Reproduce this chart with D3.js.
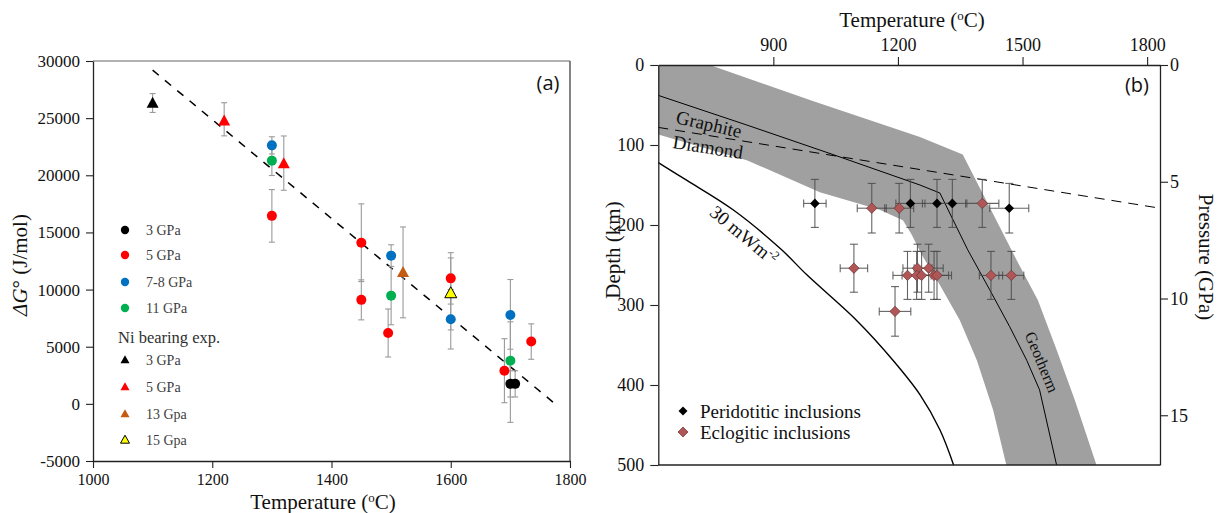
<!DOCTYPE html>
<html><head><meta charset="utf-8">
<script src="https://cdn.jsdelivr.net/npm/d3@7"></script>
<style>body{margin:0;background:#fff}svg{display:block}</style>
</head><body>
<svg id="c" width="1217" height="513"></svg>
<script>
// ---------------- Panel (a) data ----------------
const xTicksA = [1000, 1200, 1400, 1600, 1800];
const yTicksA = [-5000, 0, 5000, 10000, 15000, 20000, 25000, 30000];

// circles (Ni-free experiments)
const p3T = [1700, 1708];
const p3G = [1750, 1750];
const p3Lo = [1150, 1150];
const p3Hi = [1150, 1150];

const p5T = [1300, 1450, 1450, 1495, 1600, 1690, 1735];
const p5G = [16450, 14100, 9100, 6200, 10980, 2900, 5450];
const p5Lo = [2300, 3400, 1750, 2100, 2250, 2800, 1550];
const p5Hi = [2300, 3400, 1750, 2100, 2250, 2800, 1550];

const p78T = [1300, 1500, 1600, 1700];
const p78G = [22620, 12970, 7400, 7780];
const p78Lo = [750, 950, 2600, 3000];
const p78Hi = [750, 950, 2600, 3100];

const p11T = [1300, 1500, 1700];
const p11G = [21280, 9470, 3780];
const p11Lo = [1300, 2550, 5400];
const p11Hi = [1300, 2550, 3400];

// triangles (Ni bearing experiments)
const ni3T = [1100], ni3G = [26300], ni3Lo = [800], ni3Hi = [850];
const ni5T = [1220, 1320], ni5G = [24750, 20990], ni5Lo = [1300, 2300], ni5Hi = [1600, 2450];
const ni13T = [1520], ni13G = [11480], ni13Lo = [3950], ni13Hi = [4000];
const ni15T = [1600], ni15G = [9670], ni15Lo = [3200], ni15Hi = [3100];

// dashed regression line
const fitT = [1100, 1775];
const fitG = [29200, 0];

const legendA = ["3 GPa", "5 GPa", "7-8 GPa", "11 GPa"];
const legendNiTitle = "Ni bearing exp.";
const legendNi = ["3 GPa", "5 GPa", "13 Gpa", "15 Gpa"];

// ---------------- Panel (b) data ----------------
const tTicksB = [900, 1200, 1500, 1800];
const dTicksB = [0, 100, 200, 300, 400, 500];
const pTicksB = [0, 5, 10, 15];

const bandUpperT = [623, 747, 995, 1253, 1356, 1486, 1537, 1582, 1626, 1678];
const bandUpperD = [0, 0, 45, 90, 112, 244, 294, 356, 419, 500];
const bandLowerT = [623, 836, 1012, 1156, 1212, 1233, 1257, 1301, 1349, 1390, 1429, 1461];
const bandLowerD = [87, 119, 159, 181, 194, 212, 237, 275, 319, 369, 431, 500];

const geoT = [623, 836, 1044, 1253, 1301, 1368, 1421, 1469, 1510, 1541, 1582];
const geoD = [38, 75, 112, 150, 160, 231, 281, 327, 369, 406, 500];

const gdT = [623, 1831];
const gdD = [78, 179];

const hf30T = [623, 691, 803, 920, 980, 1100, 1188, 1253, 1301, 1334];
const hf30D = [122, 144, 181, 231, 262, 319, 369, 412, 456, 500];

const periT = [1000, 1230, 1294, 1331, 1468];
const periD = [173, 173, 173, 173, 179];
const periTE = [27, 35, 35, 35, 47];
const periDE = [30, 30, 30, 30, 31];

const eclT = [1137, 1203, 1094, 1193, 1247, 1274, 1223, 1245, 1257, 1287, 1294, 1403, 1424, 1473];
const eclD = [179, 179, 254, 308, 254, 254, 263, 263, 263, 263, 263, 173, 263, 263];
const eclTE = [35, 35, 33, 38, 35, 35, 35, 35, 35, 35, 35, 40, 28, 30];
const eclDE = [31, 31, 30, 31, 30, 30, 30, 30, 30, 30, 30, 30, 30, 30];

const legendB = ["Peridotitic inclusions", "Eclogitic inclusions"];

// ---------------- drawing ----------------
const svg = d3.select('#c');
const serif = '"Liberation Serif", "Times New Roman", serif';
const sans = '"Open Sans", "Noto Sans", sans-serif';

// ===== Panel (a) =====
const xA = d3.scaleLinear().domain([1000, 1800]).range([93, 570]);
const yA = d3.scaleLinear().domain([-5000, 30000]).range([461, 61]);
const gA = svg.append('g');

gA.append('line').attr('x1', 93).attr('x2', 570).attr('y1', 61).attr('y2', 61).attr('stroke', '#666').attr('stroke-width', 1.2);
gA.append('line').attr('x1', 570).attr('x2', 570).attr('y1', 61).attr('y2', 461).attr('stroke', '#333').attr('stroke-width', 1.2);

function styleAxis(g, fs) {
  g.attr('font-family', serif).attr('font-size', fs);
  g.select('.domain').attr('stroke', '#222').attr('stroke-width', 1.3);
  g.selectAll('.tick line').attr('stroke', '#222').attr('stroke-width', 1.1);
  g.selectAll('.tick text').attr('font-family', serif).attr('font-size', fs).attr('fill', '#111');
}

const axAL = gA.append('g').attr('transform', 'translate(93,0)')
  .call(d3.axisLeft(yA).tickValues(yTicksA).tickFormat(d => String(d)).tickSize(7).tickSizeOuter(0).tickPadding(6));
styleAxis(axAL, 17);
const axAB = gA.append('g').attr('transform', 'translate(0,461)')
  .call(d3.axisBottom(xA).tickValues(xTicksA).tickFormat(d => String(d)).tickSize(7).tickSizeOuter(0).tickPadding(6));
styleAxis(axAB, 16);

// axis titles
const tA = gA.append('text').attr('x', 323).attr('y', 509).attr('text-anchor', 'middle')
  .attr('font-family', serif).attr('font-size', 21).attr('fill', '#111');
tA.append('tspan').text('Temperature (');
tA.append('tspan').text('o').attr('font-size', 13).attr('baseline-shift', 'super');
tA.append('tspan').text('C)');

const yTitle = gA.append('text').attr('transform', 'translate(27,265) rotate(-90)').attr('text-anchor', 'middle')
  .attr('font-family', serif).attr('font-size', 21).attr('fill', '#111');
yTitle.append('tspan').text('ΔG').attr('font-style', 'italic');
yTitle.append('tspan').text('°');
yTitle.append('tspan').text(' (J/mol)');

gA.append('text').attr('x', 548).attr('y', 90).attr('text-anchor', 'middle')
  .attr('font-family', sans).attr('font-size', 20).attr('fill', '#111').text('(a)');

// dashed fit
gA.append('path').datum(fitT.map((t, i) => [t, fitG[i]]))
  .attr('d', d3.line().x(d => xA(d[0])).y(d => yA(d[1])))
  .attr('fill', 'none').attr('stroke', '#000').attr('stroke-width', 1.5).attr('stroke-dasharray', '8,8');

const seriesA = [
  {T: p3T, G: p3G, lo: p3Lo, hi: p3Hi, color: '#000000', shape: 'circle'},
  {T: p5T, G: p5G, lo: p5Lo, hi: p5Hi, color: '#FF0000', shape: 'circle'},
  {T: p78T, G: p78G, lo: p78Lo, hi: p78Hi, color: '#0070C0', shape: 'circle'},
  {T: p11T, G: p11G, lo: p11Lo, hi: p11Hi, color: '#00B050', shape: 'circle'},
  {T: ni3T, G: ni3G, lo: ni3Lo, hi: ni3Hi, color: '#000000', shape: 'tri'},
  {T: ni5T, G: ni5G, lo: ni5Lo, hi: ni5Hi, color: '#FF0000', shape: 'tri'},
  {T: ni13T, G: ni13G, lo: ni13Lo, hi: ni13Hi, color: '#C55A11', shape: 'tri'},
  {T: ni15T, G: ni15G, lo: ni15Lo, hi: ni15Hi, color: '#FFFF00', shape: 'tri', stroke: '#000'}
];

// error bars
const ebA = gA.append('g').attr('stroke', '#9a9a9a').attr('stroke-width', 1.1);
seriesA.forEach(s => {
  s.T.forEach((t, i) => {
    const x = xA(t), y1 = yA(s.G[i] + s.hi[i]), y2 = yA(s.G[i] - s.lo[i]);
    ebA.append('line').attr('x1', x).attr('x2', x).attr('y1', y1).attr('y2', y2);
    ebA.append('line').attr('x1', x - 3).attr('x2', x + 3).attr('y1', y1).attr('y2', y1);
    ebA.append('line').attr('x1', x - 3).attr('x2', x + 3).attr('y1', y2).attr('y2', y2);
  });
});

function triPath(cx, cy, w, h) {
  return `M${cx},${cy - h * 0.6}L${cx + w / 2},${cy + h * 0.4}L${cx - w / 2},${cy + h * 0.4}Z`;
}

seriesA.forEach(s => {
  s.T.forEach((t, i) => {
    const x = xA(t), y = yA(s.G[i]);
    if (s.shape === 'circle') {
      gA.append('circle').attr('cx', x).attr('cy', y).attr('r', 5).attr('fill', s.color);
    } else {
      gA.append('path').attr('d', triPath(x, y, 12, 11)).attr('fill', s.color)
        .attr('stroke', s.stroke || 'none').attr('stroke-width', 1);
    }
  });
});

// legend (a)
const legY = [230, 255, 282, 308];
legendA.forEach((lab, i) => {
  gA.append('circle').attr('cx', 125).attr('cy', legY[i]).attr('r', 4.2).attr('fill', seriesA[i].color);
  gA.append('text').attr('x', 146).attr('y', legY[i]).attr('dy', '0.35em').attr('font-family', serif)
    .attr('font-size', 14).attr('fill', '#404040').text(lab);
});
gA.append('text').attr('x', 118).attr('y', 337).attr('dy', '0.35em').attr('font-family', serif)
  .attr('font-size', 16.5).attr('fill', '#303030').text(legendNiTitle);
const legNiY = [360, 387, 414, 440];
legendNi.forEach((lab, i) => {
  const s = seriesA[4 + i];
  gA.append('path').attr('d', triPath(125, legNiY[i], 9, 8)).attr('fill', s.color)
    .attr('stroke', s.stroke || 'none').attr('stroke-width', 1);
  gA.append('text').attr('x', 146).attr('y', legNiY[i]).attr('dy', '0.35em').attr('font-family', serif)
    .attr('font-size', 14).attr('fill', '#404040').text(lab);
});

// ===== Panel (b) =====
const xB = d3.scaleLinear().domain([623, 1831]).range([658.3, 1160]);
const yB = d3.scaleLinear().domain([0, 500]).range([65, 465]);
const pB = d3.scaleLinear().domain([0, 17.13]).range([65, 465]);
const gB = svg.append('g');

// band
const bandPts = bandUpperT.map((t, i) => [t, bandUpperD[i]])
  .concat(bandLowerT.map((t, i) => [t, bandLowerD[i]]).reverse());
gB.append('path').datum(bandPts)
  .attr('d', d3.line().x(d => xB(d[0])).y(d => yB(d[1])).curve(d3.curveLinearClosed))
  .attr('fill', '#a0a0a0').attr('stroke', 'none');

const lineB = d3.line().x(d => xB(d[0])).y(d => yB(d[1]));
gB.append('path').datum(geoT.map((t, i) => [t, geoD[i]])).attr('d', lineB)
  .attr('fill', 'none').attr('stroke', '#000').attr('stroke-width', 1);
gB.append('path').datum(gdT.map((t, i) => [t, gdD[i]])).attr('d', lineB)
  .attr('fill', 'none').attr('stroke', '#000').attr('stroke-width', 1).attr('stroke-dasharray', '10,7');
gB.append('path').datum(hf30T.map((t, i) => [t, hf30D[i]]))
  .attr('d', d3.line().x(d => xB(d[0])).y(d => yB(d[1])).curve(d3.curveCatmullRom))
  .attr('fill', 'none').attr('stroke', '#000').attr('stroke-width', 1.4);

// axes b
const axBT = gB.append('g').attr('transform', 'translate(0,65)')
  .call(d3.axisTop(xB).tickValues(tTicksB).tickFormat(d => String(d)).tickSize(8).tickSizeOuter(0).tickPadding(6));
styleAxis(axBT, 18);
const axBL = gB.append('g').attr('transform', 'translate(658.3,0)')
  .call(d3.axisLeft(yB).tickValues(dTicksB).tickFormat(d => String(d)).tickSize(8).tickSizeOuter(0).tickPadding(6));
styleAxis(axBL, 18);
const axBR = gB.append('g').attr('transform', 'translate(1160,0)')
  .call(d3.axisRight(pB).tickValues(pTicksB).tickFormat(d => String(d)).tickSize(8).tickSizeOuter(0).tickPadding(2));
styleAxis(axBR, 18);
gB.append('line').attr('x1', 658.3).attr('x2', 1160).attr('y1', 465).attr('y2', 465).attr('stroke', '#222').attr('stroke-width', 1.3);

// titles b
const tB = gB.append('text').attr('x', 912).attr('y', 27).attr('text-anchor', 'middle')
  .attr('font-family', serif).attr('font-size', 21).attr('fill', '#111');
tB.append('tspan').text('Temperature (');
tB.append('tspan').text('o').attr('font-size', 13).attr('baseline-shift', 'super');
tB.append('tspan').text('C)');

gB.append('text').attr('transform', 'translate(620,250) rotate(-90)').attr('text-anchor', 'middle')
  .attr('font-family', serif).attr('font-size', 21).attr('fill', '#111').text('Depth (km)');
gB.append('text').attr('transform', 'translate(1199,257) rotate(90)').attr('text-anchor', 'middle')
  .attr('font-family', serif).attr('font-size', 21).attr('fill', '#111').text('Pressure (GPa)');

gB.append('text').attr('x', 1137).attr('y', 92).attr('text-anchor', 'middle')
  .attr('font-family', sans).attr('font-size', 20).attr('fill', '#111').text('(b)');

// line labels
gB.append('text').attr('transform', 'translate(709,124) rotate(13)').attr('text-anchor', 'middle')
  .attr('dy', '0.35em').attr('font-family', serif).attr('font-size', 19).attr('fill', '#111').text('Graphite');
gB.append('text').attr('transform', 'translate(708,147) rotate(9)').attr('text-anchor', 'middle')
  .attr('dy', '0.35em').attr('font-family', serif).attr('font-size', 19).attr('fill', '#111').text('Diamond');
const hfl = gB.append('text').attr('transform', 'translate(744,235) rotate(39.5)').attr('text-anchor', 'middle')
  .attr('dy', '0.35em').attr('font-family', serif).attr('font-size', 19).attr('fill', '#111');
hfl.append('tspan').text('30 mWm');
hfl.append('tspan').text('-2').attr('font-size', 12).attr('baseline-shift', 'super');
gB.append('text').attr('transform', 'translate(1042,362) rotate(67.5)').attr('text-anchor', 'middle')
  .attr('dy', '0.35em').attr('font-family', serif).attr('font-size', 16).attr('fill', '#111').text('Geotherm');

// error bars b
const ebB = gB.append('g').attr('stroke', '#4a4a4a').attr('stroke-width', 1.1).attr('stroke-opacity', 0.85);
function errB(T, D, TE, DE) {
  T.forEach((t, i) => {
    const x = xB(t), y = yB(D[i]);
    const x1 = xB(t - TE[i]), x2 = xB(t + TE[i]);
    const y1 = yB(D[i] - DE[i]), y2 = yB(D[i] + DE[i]);
    ebB.append('line').attr('x1', x1).attr('x2', x2).attr('y1', y).attr('y2', y);
    ebB.append('line').attr('x1', x).attr('x2', x).attr('y1', y1).attr('y2', y2);
    ebB.append('line').attr('x1', x1).attr('x2', x1).attr('y1', y - 4).attr('y2', y + 4);
    ebB.append('line').attr('x1', x2).attr('x2', x2).attr('y1', y - 4).attr('y2', y + 4);
    ebB.append('line').attr('x1', x - 4).attr('x2', x + 4).attr('y1', y1).attr('y2', y1);
    ebB.append('line').attr('x1', x - 4).attr('x2', x + 4).attr('y1', y2).attr('y2', y2);
  });
}
errB(periT, periD, periTE, periDE);
errB(eclT, eclD, eclTE, eclDE);

function diamond(cx, cy, r) {
  return `M${cx},${cy - r}L${cx + r},${cy}L${cx},${cy + r}L${cx - r},${cy}Z`;
}
eclT.forEach((t, i) => {
  gB.append('path').attr('d', diamond(xB(t), yB(eclD[i]), 5.2)).attr('fill', '#B05656')
    .attr('stroke', '#6a2e2e').attr('stroke-width', 0.7);
});
periT.forEach((t, i) => {
  gB.append('path').attr('d', diamond(xB(t), yB(periD[i]), 4.8)).attr('fill', '#000');
});

// legend b
gB.append('path').attr('d', diamond(683, 411, 4.5)).attr('fill', '#000');
gB.append('path').attr('d', diamond(683, 432, 5)).attr('fill', '#B05656').attr('stroke', '#6a2e2e').attr('stroke-width', 0.7);
gB.append('text').attr('x', 700).attr('y', 411).attr('dy', '0.35em').attr('font-family', serif)
  .attr('font-size', 19).attr('fill', '#111').text(legendB[0]);
gB.append('text').attr('x', 700).attr('y', 432).attr('dy', '0.35em').attr('font-family', serif)
  .attr('font-size', 19).attr('fill', '#111').text(legendB[1]);
</script>
</body></html>
